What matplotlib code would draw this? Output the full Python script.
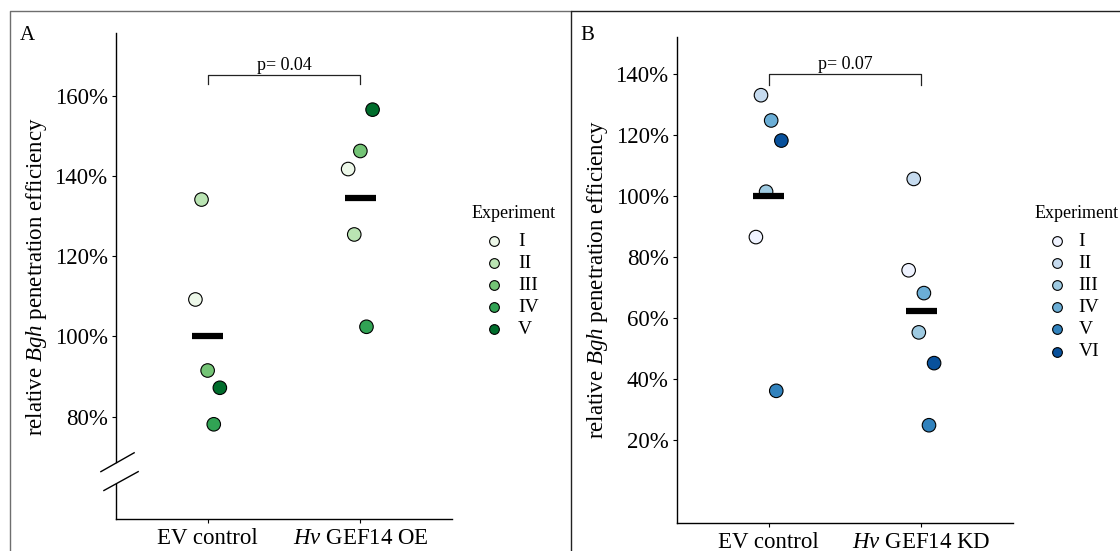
import numpy as np
import matplotlib
matplotlib.use('Agg')
import matplotlib.pyplot as plt
from matplotlib.lines import Line2D

plt.rcParams['font.family'] = ['Liberation Serif', 'DejaVu Serif']
plt.rcParams['mathtext.fontset'] = 'custom'
plt.rcParams['mathtext.rm'] = 'Liberation Serif'
plt.rcParams['mathtext.it'] = 'Liberation Serif:italic'

# panel A: overexpression
groups_a = ['EV control', r'$\mathit{Hv}$ GEF14 OE']
experiments_a = ['I', 'II', 'III', 'IV', 'V']
ev_a = [109.2, 134.1, 91.5, 78.1, 87.2]
oe_a = [141.7, 125.4, 146.2, 102.4, 156.5]
colors_a = ['#edf8e9', '#bae4b3', '#74c476', '#31a354', '#006d2c']
yticks_a = [80, 100, 120, 140, 160]
p_a = 'p= 0.04'

# panel B: knock-down
groups_b = ['EV control', r'$\mathit{Hv}$ GEF14 KD']
experiments_b = ['I', 'II', 'III', 'IV', 'V', 'VI']
ev_b = [86.5, 133.1, 101.4, 124.8, 36.0, 118.2]
kd_b = [75.6, 105.6, 55.2, 68.1, 24.7, 45.1]
colors_b = ['#eff3ff', '#c6dbef', '#9ecae1', '#6baed6', '#3182bd', '#08519c']
yticks_b = [20, 40, 60, 80, 100, 120, 140]
p_b = 'p= 0.07'

W, H = 1120, 551
fig = plt.figure(figsize=(W / 100, H / 100), dpi=100)


def fx(px):
    return px / W


def fy(py):
    return 1 - py / H


def panel(rect, groups, experiments, series, colors, yticks, ylim, pval, bracket):
    ax = fig.add_axes(rect)
    n = len(experiments)
    offs = (np.arange(n) - (n - 1) / 2) * 0.2 / n
    for gi, vals in enumerate(series):
        x = gi + 1 + offs
        ax.scatter(x, vals, s=95, c=colors, edgecolors='black', linewidths=0.8, zorder=3)
        m = np.mean(vals)
        ax.hlines(m, gi + 1 - 0.1, gi + 1 + 0.1, color='black', lw=4.5, zorder=4)
    ax.set_xlim(0.4, 2.6)
    ax.set_ylim(*ylim)
    ax.set_xticks([1, 2])
    ax.set_xticklabels(groups)
    ax.set_yticks(yticks)
    ax.set_yticklabels([f'{v}%' for v in yticks])
    ax.tick_params(labelsize=16.5, length=3, width=0.8, pad=3, colors='black')
    ax.tick_params(axis='x', pad=3.5)
    for s in ['top', 'right']:
        ax.spines[s].set_visible(False)
    for s in ['left', 'bottom']:
        ax.spines[s].set_linewidth(1.0)
    ax.set_ylabel(r'relative $\mathit{Bgh}$ penetration efficiency', fontsize=16.5, labelpad=4)
    top, low = bracket
    ax.plot([1, 1, 2, 2], [low, top, top, low], color='#222222', lw=0.9, zorder=2)
    ax.annotate(pval, (1.5, top), xytext=(0, 4), textcoords='offset points',
                ha='center', va='baseline', fontsize=13)
    return ax


ax_a = panel([fx(116), fy(519), fx(452 - 116), (519 - 33.4) / H],
             groups_a, experiments_a, [ev_a, oe_a], colors_a, yticks_a,
             (54.5, 175.5), p_a, (165.1, 162.8))
ax_b = panel([fx(677), fy(522.5), fx(1013 - 677), (522.5 - 36.9) / H],
             groups_b, experiments_b, [ev_b, kd_b], colors_b, yticks_b,
             (-7.25, 152.25), p_b, (140.0, 136.6))

# axis break on panel A
ax_a.spines['left'].set_visible(False)
bt = ax_a.get_yaxis_transform()
ax_a.plot([0, 0], [54.5, 63.3], color='black', lw=1.0, transform=bt, clip_on=False)
ax_a.plot([0, 0], [68.6, 175.5], color='black', lw=1.0, transform=bt, clip_on=False)
ax_a.plot([-0.045, 0.054], [66.3, 71.0], color='black', lw=1.0, transform=bt, clip_on=False)
ax_a.plot([-0.036, 0.066], [61.6, 66.3], color='black', lw=1.0, transform=bt, clip_on=False)


def legend(x_title, x_mark, x_lab, y0, labels, colors):
    fig.text(fx(x_title), fy(213), 'Experiment', fontsize=13, ha='left', va='center')
    for i, (lab, c) in enumerate(zip(labels, colors)):
        y = y0 + i * 22.1
        fig.add_artist(Line2D([fx(x_mark)], [fy(y)], marker='o', ms=7, mfc=c,
                              mec='black', mew=0.8, ls='none', transform=fig.transFigure))
        fig.text(fx(x_lab), fy(y), lab, fontsize=14, ha='left', va='center')


legend(471.6, 494, 518, 241, experiments_a, colors_a)
legend(1034.7, 1057, 1078.6, 241, experiments_b, colors_b)

# panel labels and frames
fig.text(fx(20), fy(40), 'A', fontsize=15, ha='left', va='baseline')
fig.text(fx(580), fy(40), 'B', fontsize=15, ha='left', va='baseline')
fig.add_artist(Line2D([fx(10), fx(10), fx(571)], [0, fy(10.5), fy(10.5)],
                      color='#6e6e6e', lw=1.0, transform=fig.transFigure))
fig.add_artist(Line2D([fx(571), fx(571), 1], [0, fy(10.5), fy(10.5)],
                      color='#222222', lw=1.0, transform=fig.transFigure))

fig.savefig('out.png', dpi=100)
